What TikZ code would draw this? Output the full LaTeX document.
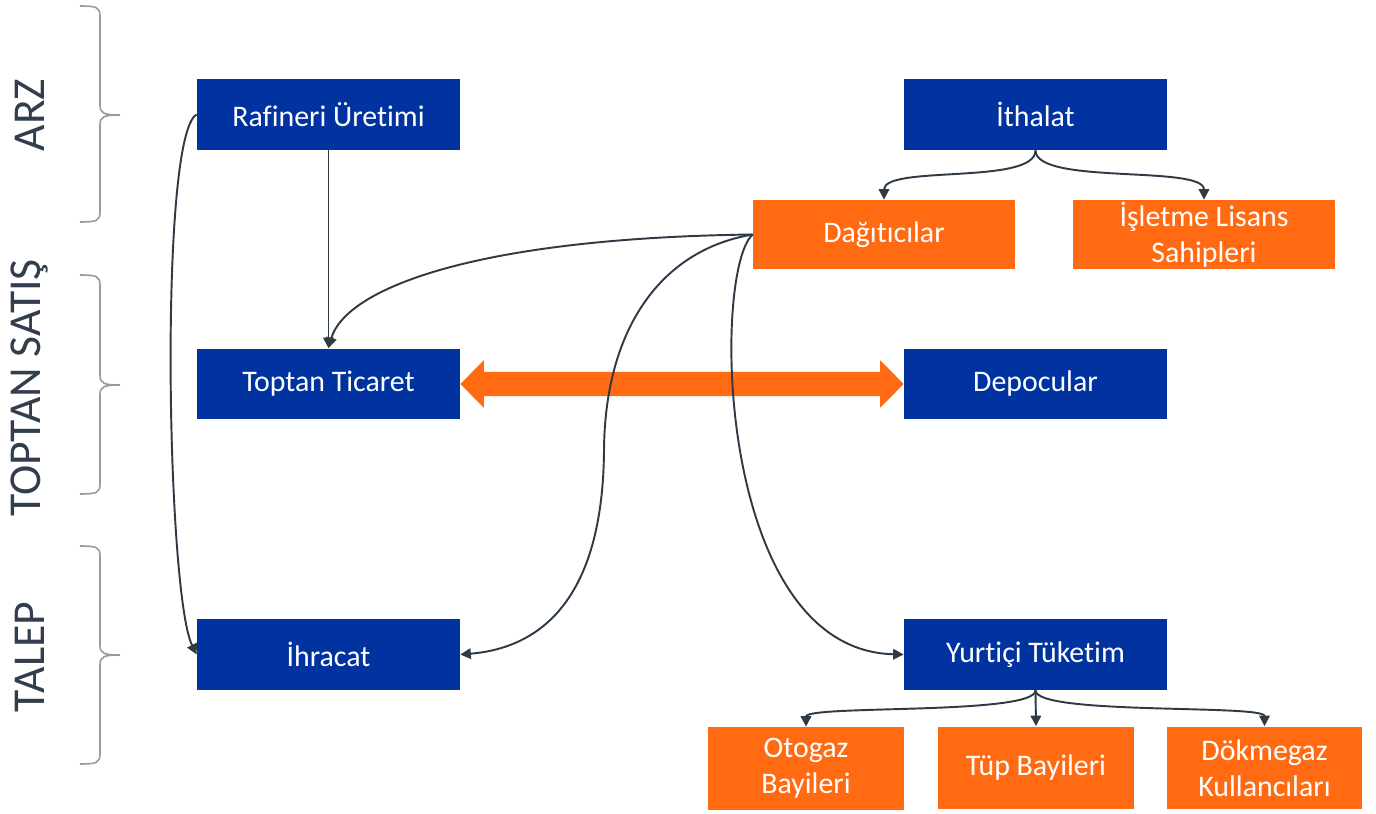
\documentclass[tikz,border=0pt]{standalone}
\usepackage{fontspec}
\setmainfont{Carlito}[Ligatures=NoCommon]
\usetikzlibrary{arrows.meta,calc}

\definecolor{lpgblue}{RGB}{0,51,160}
\definecolor{lpgorange}{RGB}{255,106,19}
\definecolor{lineclr}{RGB}{46,58,70}
\definecolor{braceclr}{RGB}{150,155,162}
\definecolor{sideclr}{RGB}{50,62,78}

% side brace: top y, tip y, bottom y
\newcommand{\sidebrace}[3]{%
  \draw[brace] (80,#1) .. controls (96,#1) and (100,#1+1) .. (100,#1+10)
    -- (100,#2-10) .. controls (100,#2-2) and (103,#2) .. (120,#2)
    .. controls (103,#2) and (100,#2+2) .. (100,#2+10)
    -- (100,#3-10) .. controls (100,#3-1) and (96,#3) .. (80,#3);}

\begin{document}
\begin{tikzpicture}[x=0.02cm, y=-0.02cm,
    bluebox/.style={rectangle, fill=lpgblue, text=white, inner sep=0pt,
      minimum width=5.26cm, minimum height=1.42cm, align=center,
      font=\fontsize{17}{20.5}\selectfont},
    orangebox/.style={rectangle, fill=lpgorange, text=white, inner sep=0pt,
      minimum width=5.24cm, minimum height=1.38cm, align=center,
      font=\fontsize{17}{20.5}\selectfont},
    smallbox/.style={orangebox, minimum width=3.92cm, minimum height=1.66cm},
    conn/.style={-{Triangle[length=6pt,width=6pt]}, draw=lineclr, line width=1.1pt},
    brace/.style={draw=braceclr, line width=0.9pt},
    side/.style={rotate=90, text=sideclr, font=\fontsize{26}{30}\selectfont}
]
\useasboundingbox (0,0) rectangle (1376,814);

% Side labels and braces
\node[side] (arz) at (30,115) {ARZ};
\node[side] (toptansatis) at (30,388) {TOPTAN SATIŞ};
\node[side] (talep) at (30,657) {TALEP};
\sidebrace{6}{115}{222}
\sidebrace{275}{385}{494}
\sidebrace{546}{655}{764}

% Supply boxes
\node[bluebox] (rafineri) at (328.5,114.5) {Rafineri Üretimi};
\node[bluebox] (ithalat) at (1035.5,114.5) {İthalat};
\node[orangebox] (dagitici) at (884,234.5) {Dağıtıcılar};
\node[orangebox] (isletme) at (1204,234.5) {İşletme Lisans\\Sahipleri};

% Wholesale boxes
\node[bluebox] (toptan) at (328.5,384) {Toptan Ticaret};
\node[bluebox] (depocular) at (1035.5,384) {Depocular};

% Demand boxes
\node[bluebox] (ihracat) at (328.5,654.5) {İhracat};
\node[bluebox] (yurtici) at (1035.5,654.5) {Yurtiçi Tüketim};
\node[smallbox] (otogaz) at (806,768.5) {Otogaz\\Bayileri};
\node[smallbox] (tup) at (1036,768) {Tüp Bayileri};
\node[smallbox] (dokme) at (1264.5,768) {Dökmegaz\\Kullancıları};

% Double arrow between Toptan Ticaret and Depocular
\fill[lpgorange] (toptan.east) -- ++(23.5,-23.7) -- ++(0,11.5)
  -- ($(depocular.west)+(-23.5,-12.2)$) -- ++(0,-11.5) -- (depocular.west)
  -- ++(-23.5,23.7) -- ++(0,-11.5)
  -- ($(toptan.east)+(23.5,12.2)$) -- ++(0,11.5) -- cycle;

% Arrows
\draw[conn] (rafineri.south) -- (toptan.north);
\draw[conn] (rafineri.west) .. controls +(-38,20) and +(-30,-60) .. (ihracat.west);
\draw[conn] (ithalat.south) .. controls +(0,35) and +(0,-35) .. (dagitici.north);
\draw[conn] (ithalat.south) .. controls +(0,35) and +(0,-35) .. (isletme.north);
\draw[conn] (dagitici.west) .. controls (470,238) and (345,290) .. (toptan.north);
\draw[conn] (dagitici.west) .. controls (660,250) and (605,330) .. (604,450)
  .. controls (603,600) and (540,648) .. (ihracat.east);
\draw[conn] (dagitici.west) .. controls (712,270) and (715,650) .. (yurtici.west);
\draw[conn] (yurtici.south) .. controls +(0,25) and +(0,-22) .. (otogaz.north);
\draw[conn] (yurtici.south) -- (tup.north);
\draw[conn] (yurtici.south) .. controls +(0,25) and +(0,-22) .. (dokme.north);
\end{tikzpicture}
\end{document}
